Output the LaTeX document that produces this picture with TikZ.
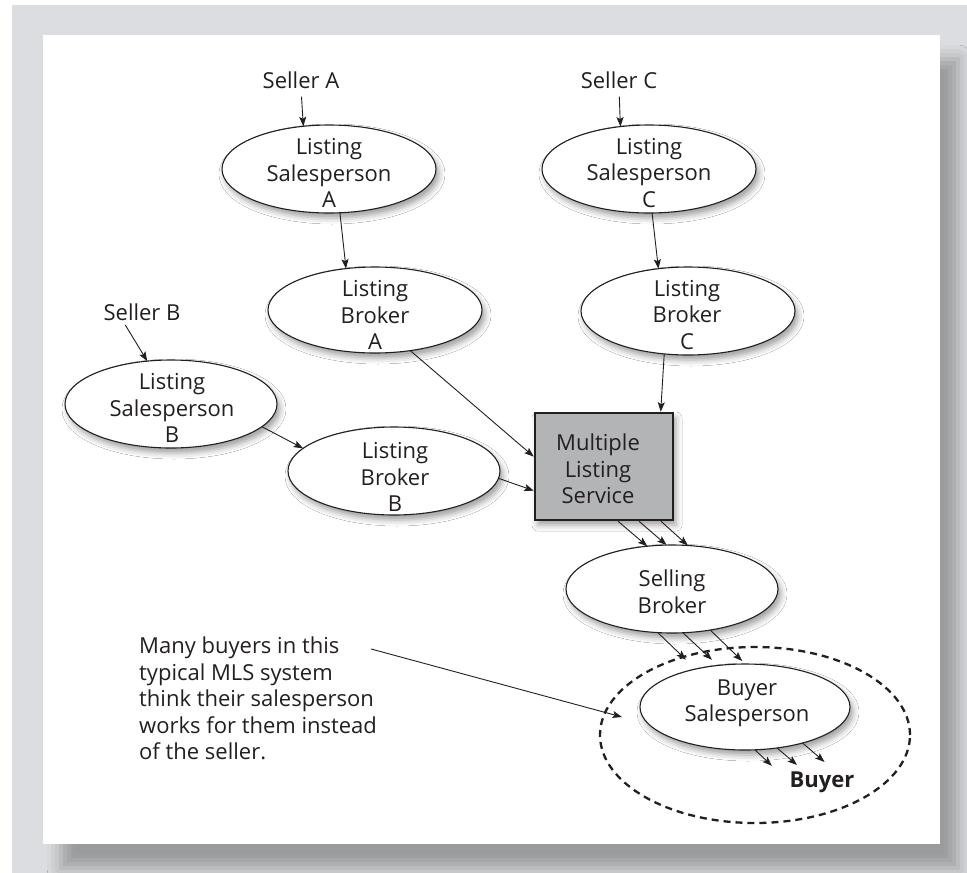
\documentclass[tikz,border=0pt]{standalone}
\usepackage{fontspec}
\setmainfont{Open Sans}
\usetikzlibrary{shapes.geometric,arrows.meta,calc,shadows.blur}
\definecolor{ink}{HTML}{231F20}
\definecolor{framegray}{HTML}{DCDDE0}
\definecolor{mlsgray}{HTML}{B3B4B6}

\begin{document}
\begin{tikzpicture}[x=1pt,y=-1pt,
  softshadow/.style={blur shadow={shadow xshift=3pt,shadow yshift=-5pt,shadow blur radius=6pt,shadow opacity=38}},
  oval/.style={ellipse, draw=ink, line width=1.1pt, fill=white, inner sep=0pt, outer sep=0pt, softshadow},
  lbl/.style={font=\fontsize{22}{26.5}\selectfont, text=ink, align=center, inner sep=0pt},
  link/.style={draw=ink, line width=0.9pt, -{Stealth[length=9.5pt,width=7pt,inset=2pt]}},
  group/.style={ellipse, draw=ink, line width=2.3pt, dash pattern=on 7pt off 5pt, inner sep=0pt},
]
\useasboundingbox (0,0) rectangle (967,873);

% page frame and white panel with its drop shadow
\fill[white] (0,0) rectangle (967,873);
\fill[framegray] (12,5) rectangle (967,873);
\fill[white, blur shadow={shadow xshift=18pt,shadow yshift=-24pt,shadow blur radius=14pt,shadow opacity=30}]
  (43,35) rectangle (940,844);

% sellers
\node[lbl] (sA) at (301,80) {Seller A};
\node[lbl] (sC) at (619,80) {Seller C};
\node[lbl] (sB) at (142,312) {Seller B};

% listing salespersons and brokers
\node[oval, minimum width=214pt, minimum height=88pt] (lsA) at (329,169) {};
\node[lbl] (lsAt) at (329,173) {Listing\\Salesperson\\A};
\node[oval, minimum width=214pt, minimum height=88pt] (lsC) at (649,169) {};
\node[lbl] (lsCt) at (649,173) {Listing\\Salesperson\\C};
\node[oval, minimum width=214pt, minimum height=86pt] (lbA) at (375,310) {};
\node[lbl] (lbAt) at (375,315) {Listing\\Broker\\A};
\node[oval, minimum width=214pt, minimum height=88pt] (lbC) at (688,311) {};
\node[lbl] (lbCt) at (687,315) {Listing\\Broker\\C};
\node[oval, minimum width=212pt, minimum height=88pt] (lsB) at (171,404) {};
\node[lbl] (lsBt) at (172,408) {Listing\\Salesperson\\B};
\node[oval, minimum width=212pt, minimum height=88pt] (lbB) at (394,471) {};
\node[lbl] (lbBt) at (395,477) {Listing\\Broker\\B};

% multiple listing service
\node[rectangle, draw=ink, line width=2.5pt, fill=mlsgray, minimum width=138pt, minimum height=107pt, softshadow] (mls) at (604,466.5) {};
\node[lbl] (mlst) at (598,469) {Multiple\\Listing\\Service};

% buyer side
\node[group, minimum width=310pt, minimum height=176pt] (grp) at (755,735) {};
\node[oval, minimum width=212pt, minimum height=88pt] (sb) at (672,589) {};
\node[lbl] (sbt) at (672,591.5) {Selling\\Broker};
\node[oval, minimum width=210pt, minimum height=86pt] (bs) at (745,707) {};
\node[lbl] (bst) at (747,703.5) {Buyer\\Salesperson};
\node[lbl, font=\fontsize{22}{26.5}\selectfont\bfseries] (buyer) at (822,782) {Buyer};

% note
\node[lbl, align=left, anchor=north west] (note) at (139,637)
  {Many buyers in this\\typical MLS system\\think their salesperson\\works for them instead\\of the seller.};
\coordinate (noteEnd) at (622,717);

% connectors
\draw[link, shorten <=8pt] (sA.south) -- (lsA.121);
\draw[link, shorten <=8pt] (sC.south) -- (lsC.124);
\draw[link, shorten <=5pt] ($(sB.south west)!0.25!(sB.south east)$) -- (lsB.119);
\draw[link] (lsA.-76) -- (lbA.125);
\draw[link] (lsC.-86) -- (lbC.125);
\draw[link] (lsB.-14) -- (lbB.166);
\draw[link] (lbA.-49) -- (mls.172);
\draw[link] (lbB.-4) -- (mls.199);
\draw[link] (lbC.-119) -- (mls.44);

\foreach \dx/\a in {14/120, 35/97, 57/70}
  \draw[link] ($(mls.south)+(\dx,0)$) -- (sb.\a);
\foreach \a/\v in {-108/{(28,27)}, -76/{(29,27)}, -47/{(32,31)}}
  \draw[link] (sb.\a) -- ++\v;
\foreach \a/\v in {-77/{(17,16)}, -52/{(20,17)}, -32/{(22,19)}}
  \draw[link] (bs.\a) -- ++\v;

\draw[link] ($(note.north east)+(-6,12)$) -- (noteEnd);
\end{tikzpicture}
\end{document}
